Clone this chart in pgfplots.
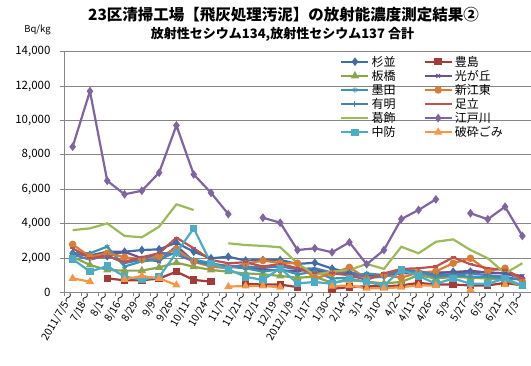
\documentclass[border=0pt]{standalone}
\usepackage{fontspec}
\setmainfont{Noto Sans CJK JP}
\usepackage{pgfplots}
\usepackage{pgfplotstable}
\pgfplotsset{compat=1.18}
\definecolor{cSug}{HTML}{3F6DA6}
\definecolor{cTos}{HTML}{A33B39}
\definecolor{cIta}{HTML}{8AA54C}
\definecolor{cHik}{HTML}{6A5290}
\definecolor{cSum}{HTML}{3A95B0}
\definecolor{cShi}{HTML}{D97C35}
\definecolor{cAri}{HTML}{4A7EBB}
\definecolor{cAdc}{HTML}{C0504D}
\definecolor{cKat}{HTML}{9BBB59}
\definecolor{cEdo}{HTML}{8064A2}
\definecolor{cChu}{HTML}{4BACC6}
\definecolor{cHas}{HTML}{F79646}
\definecolor{gridgray}{HTML}{868686}
\pgfplotstableread{
i sug tos ita hik sum shi ari adc kat edo chu has
0 2270 nan 2070 2250 2270 2790 2200 2560 3620 8470 1940 810
1 2170 nan 1590 2140 2270 2070 1900 1990 3720 11700 1200 620
2 2100 810 1300 2360 2660 2270 2150 2100 4010 6490 1530 nan
3 2360 700 1260 2360 1500 2040 1700 1780 3280 5700 910 750
4 2460 700 1260 1980 1800 1920 1900 2040 3200 5910 750 950
5 2500 800 1450 1790 1900 2100 2300 2270 3820 6960 900 810
6 2890 1200 1720 2700 2350 2520 2200 3180 5120 9710 2300 420
7 2360 720 1490 1800 1900 1780 1800 2560 4790 6860 3720 nan
8 1980 620 1300 1600 1700 1490 1600 1880 nan 5790 1690 nan
9 2070 nan 1200 1500 1500 1400 1550 1690 2850 4550 1340 330
10 1850 500 1100 1400 1400 1650 1500 1750 2750 nan 900 370
11 1880 450 1050 1350 1200 1850 1450 1500 2700 4340 720 370
12 1880 450 950 1250 1350 1700 1500 1650 2620 4050 1400 290
13 1650 300 850 1250 1050 1690 1350 1400 1690 2460 520 nan
14 1720 nan 900 1300 1200 800 1400 1100 1000 2560 600 nan
15 1380 200 560 1100 800 1100 1150 1100 1200 2330 500 350
16 1150 300 700 1050 850 1450 1200 1000 1300 2910 810 400
17 1000 350 620 950 1100 800 850 720 1650 1630 600 230
18 950 350 520 950 1000 1000 900 1100 1360 2460 400 230
19 1200 400 600 1100 1250 850 1300 1360 2650 4260 1300 300
20 1150 550 1000 1100 1150 1150 1250 1400 2270 4790 950 400
21 1100 450 800 1150 900 1220 1000 1500 2940 5410 500 400
22 1200 450 900 1150 1000 1690 1050 2030 3080 nan 800 nan
23 1200 400 850 1250 900 1980 1100 1630 2460 4600 500 170
24 1150 400 800 1150 900 1250 1000 1400 1980 4250 500 nan
25 1100 550 700 1100 800 1400 900 1300 1100 4980 800 450
26 800 400 370 950 750 620 700 810 1690 3280 400 nan
}\datatable
\begin{document}
\begin{tikzpicture}
\useasboundingbox (0,0) rectangle (531pt,365pt);
\node[font=\fontsize{15.5}{17}\selectfont\bfseries] at (283.5pt,350pt) {23区清掃工場【飛灰処理汚泥】の放射能濃度測定結果②};
\node[font=\fontsize{13}{15}\selectfont\bfseries] at (282.5pt,330.5pt) {放射性セシウム134,放射性セシウム137 合計};
\node[font=\fontsize{9.5}{11}\selectfont] at (37.5pt,335pt) {Bq/kg};
\begin{axis}[
  at={(64pt,72.7pt)}, anchor=south west,
  width=467pt, height=240.6pt, scale only axis,
  xmin=-0.5, xmax=26.5, ymin=0, ymax=14000,
  axis x line*=bottom, axis y line*=left,
  axis line style={draw=gridgray, line width=0.8pt},
  ytick={0,2000,...,14000},
  ymajorgrids, grid style={draw=gridgray, line width=0.8pt},
  tick align=outside, major tick length=4pt,
  tick style={draw=gridgray, line width=0.8pt},
  xtick={-0.5,0.5,...,26.5}, xticklabels={},
  extra x ticks={0,1,...,26},
  extra x tick labels={2011/7/5～,7/18～,8/1～,8/16～,8/29～,9/9～,9/26～,10/11～,10/24～,11/7～,11/21～,12/1～,12/19～,2012/1/9～,1/17～,1/30～,2/14～,3/1～,3/10～,4/2～,4/11～,4/26～,5/9～,5/27～,6/5～,6/21～,7/3～},
  extra x tick style={major tick length=0pt, grid=none,
     xticklabel style={rotate=60, anchor=east, font=\fontsize{10.5}{12}\selectfont, inner sep=1pt}},
  yticklabel style={font=\fontsize{11.5}{12}\selectfont, text=black, xshift=-6pt},
  /pgf/number format/assume math mode=true,
  /pgf/number format/1000 sep={,},
  scaled y ticks=false,
  unbounded coords=jump,
  every axis plot/.append style={line width=2.2pt, mark size=2.6pt},
  legend columns=2,
  legend cell align=left,
  legend style={at={(0.585,1.0)}, anchor=north west, draw=none, fill=none,
    font=\fontsize{12}{13}\selectfont, row sep=-1.5pt,
    /tikz/every even column/.append style={column sep=26pt}},
  legend image code/.code={\draw[mark repeat=2,mark phase=2] plot coordinates {(0pt,0pt) (13.5pt,0pt) (27pt,0pt)};},
]
\addplot[cSug, mark=diamond*, mark options={solid}] table[x=i,y=sug]{\datatable};
\addlegendentry{杉並}
\addplot[cTos, mark=square*, mark options={solid}] table[x=i,y=tos]{\datatable};
\addlegendentry{豊島}
\addplot[cIta, mark=triangle*, mark options={solid}] table[x=i,y=ita]{\datatable};
\addlegendentry{板橋}
\addplot[cHik, mark=x, mark options={solid, line width=1pt}] table[x=i,y=hik]{\datatable};
\addlegendentry{光が丘}
\addplot[cSum, mark=asterisk, mark options={solid, line width=1pt}] table[x=i,y=sum]{\datatable};
\addlegendentry{墨田}
\addplot[cShi, mark=*, mark options={solid}] table[x=i,y=shi]{\datatable};
\addlegendentry{新江東}
\addplot[cAri, mark=|, mark options={solid, line width=1pt}] table[x=i,y=ari]{\datatable};
\addlegendentry{有明}
\addplot[cAdc, mark=-, mark options={solid}] table[x=i,y=adc]{\datatable};
\addlegendentry{足立}
\addplot[cKat, mark=none] table[x=i,y=kat]{\datatable};
\addlegendentry{葛飾}
\addplot[cEdo, mark=diamond*, mark options={solid}] table[x=i,y=edo]{\datatable};
\addlegendentry{江戸川}
\addplot[cChu, mark=square*, mark options={solid}] table[x=i,y=chu]{\datatable};
\addlegendentry{中防}
\addplot[cHas, mark=triangle*, mark options={solid}] table[x=i,y=has]{\datatable};
\addlegendentry{破砕ごみ}
\end{axis}
\end{tikzpicture}
\end{document}
